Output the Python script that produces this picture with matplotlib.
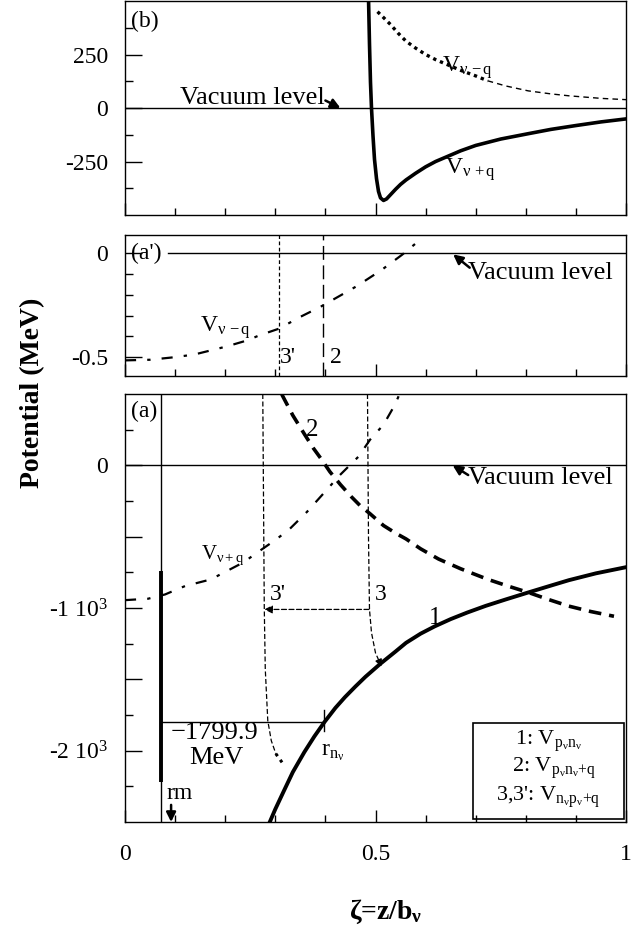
import numpy as np
import matplotlib
matplotlib.use('Agg')
import matplotlib.pyplot as plt
from matplotlib.ticker import FixedLocator, FuncFormatter
from matplotlib.patches import Rectangle

plt.rcParams['font.family'] = ['Liberation Serif', 'DejaVu Serif']
plt.rcParams['mathtext.fontset'] = 'custom'
plt.rcParams['mathtext.rm'] = 'Liberation Serif'
plt.rcParams['mathtext.it'] = 'Liberation Serif:italic'
plt.rcParams['mathtext.bf'] = 'Liberation Serif:bold'

# ---- panel (b): V_{v+q}, V_{v-q} ----
b_plus_x = [0.486, 0.488, 0.490, 0.492, 0.495, 0.498, 0.502, 0.506, 0.510, 0.516, 0.522, 0.530, 0.540,
            0.550, 0.561, 0.580, 0.600, 0.620, 0.642, 0.670, 0.700, 0.750, 0.805, 0.850, 0.900, 0.950, 1.0]
b_plus_y = [520, 300, 120, 0, -130, -240, -330, -390, -420, -432, -425, -405, -380,
            -357, -336, -305, -275, -250, -228, -200, -175, -145, -120, -100, -82, -65, -51]
b_minus_x = [0.504, 0.515, 0.530, 0.545, 0.561, 0.580, 0.600, 0.620, 0.642, 0.670, 0.700, 0.724,
             0.760, 0.805, 0.850, 0.886, 0.950, 1.0]
b_minus_y = [450, 425, 390, 350, 312, 280, 250, 226, 204, 176, 150, 127,
             103, 80, 66, 57, 45, 39]

# ---- panel (a'): V_{v-q} (small scale) ----
ap_x = [0.0, 0.05, 0.098, 0.138, 0.203, 0.244, 0.268, 0.307, 0.350, 0.390, 0.431, 0.463, 0.512, 0.553, 0.585]
ap_y = [-0.515, -0.512, -0.50, -0.487, -0.448, -0.419, -0.395, -0.363, -0.306, -0.258, -0.202, -0.158, -0.081, -0.008, 0.056]
ap_line3p = 0.307
ap_line2 = 0.396

# ---- panel (a) ----
a_plus_x = [0.0, 0.046, 0.08, 0.10, 0.12, 0.171, 0.236, 0.269, 0.303, 0.329, 0.363, 0.396, 0.429, 0.466, 0.489, 0.516, 0.539, 0.548]
a_plus_y = [-945, -935, -905, -875, -846, -800, -681, -599, -516, -445, -327, -198, -68, 61, 179, 285, 426, 500]
c1_x = [0.289, 0.300, 0.317, 0.335, 0.358, 0.378, 0.398, 0.420, 0.439, 0.460, 0.480, 0.510, 0.540,
        0.561, 0.590, 0.618, 0.650, 0.683, 0.720, 0.760, 0.805, 0.850, 0.886, 0.940, 1.0]
c1_y = [-2500, -2410, -2283, -2150, -2010, -1900, -1800, -1700, -1625, -1550, -1482, -1390, -1305,
        -1244, -1180, -1129, -1078, -1032, -985, -940, -891, -843, -805, -757, -714]
c2_x = [0.313, 0.335, 0.359, 0.376, 0.393, 0.409, 0.430, 0.452, 0.470, 0.489, 0.516, 0.540, 0.561,
        0.590, 0.626, 0.670, 0.724, 0.765, 0.805, 0.845, 0.886, 0.930, 0.976]
c2_y = [497, 350, 214, 120, 38, -45, -135, -221, -285, -339, -422, -475, -516,
        -585, -657, -725, -799, -847, -891, -940, -987, -1025, -1058]
c3p_x = [0.275, 0.278, 0.280, 0.285, 0.292, 0.301]
c3p_y = [500, -1000, -1430, -1790, -1930, -2021]
c3p_end_x = [0.301, 0.31, 0.317]
c3p_end_y = [-2021, -2065, -2100]
c3_x = [0.484, 0.486, 0.488, 0.492, 0.500, 0.507]
c3_y = [500, -500, -1010, -1173, -1315, -1370]
rm_x = 0.071
e_bind = -1799.9
r_n = 0.398

fig = plt.figure(figsize=(6.36, 9.33), dpi=100)
L, W = 125/636, 501/636
axb = fig.add_axes([L, 1-215/933, W, 214/933])
axp = fig.add_axes([L, 1-376/933, W, 141/933])
axa = fig.add_axes([L, 1-822/933, W, 428/933])

def style(ax, ymaj, ymin, fmt, xlabels=False):
    ax.set_xlim(0, 1)
    ax.xaxis.set_major_locator(FixedLocator([0, 0.5, 1]))
    ax.xaxis.set_minor_locator(FixedLocator(np.arange(0.1, 1.0, 0.1)))
    ax.yaxis.set_major_locator(FixedLocator(ymaj))
    ax.yaxis.set_minor_locator(FixedLocator(ymin))
    ax.yaxis.set_major_formatter(FuncFormatter(fmt))
    ax.tick_params(which='both', direction='in', top=False, right=False, width=1.0)
    ax.tick_params(axis='x', which='major', length=9, pad=16, labelsize=17)
    ax.tick_params(axis='x', which='minor', length=5)
    ax.tick_params(axis='y', which='major', length=12, pad=12, labelsize=17)
    ax.tick_params(axis='y', which='minor', length=6)
    if not xlabels:
        ax.tick_params(axis='x', labelbottom=False)
    else:
        ax.xaxis.set_major_formatter(FuncFormatter(lambda v, p: '%g' % v))
    for s in ax.spines.values():
        s.set_linewidth(1.0)

arr = dict(arrowstyle='-|>', color='k', lw=1.8, mutation_scale=14, shrinkA=0, shrinkB=0)

# panel (b)
axb.set_ylim(-500, 500)
style(axb, [-250, 0, 250], [-375, -125, 125, 375], lambda v, p: '%d' % v)
axb.axhline(0, color='k', lw=1.0)
axb.plot(b_plus_x, b_plus_y, color='k', lw=2.6)
axb.plot(b_minus_x[:12], b_minus_y[:12], color='k', lw=2.4, dashes=(1.0, 1.2))
axb.plot(b_minus_x[11:], b_minus_y[11:], color='k', lw=1.0, dashes=(4, 3))
axb.text(0.012, 404, '(b)', fontsize=17, va='center')
axb.text(0.398, 45, 'Vacuum level', fontsize=19, ha='right', va='center')
axb.annotate('', xy=(0.43, 0), xytext=(0.40, 35), arrowprops=arr)
axb.text(0.683, 190, r'V$_{\mathrm{ν\,-q}}$', fontsize=17, ha='center', va='center')
axb.text(0.69, -290, r'V$_{\mathrm{ν\,+q}}$', fontsize=17, ha='center', va='center')

# panel (a')
axp.set_ylim(-0.59, 0.087)
style(axp, [-0.5, 0], [-0.4, -0.3, -0.2, -0.1], lambda v, p: '%g' % v)
axp.axhline(0, xmin=0.085, color='k', lw=1.0)
axp.plot(ap_x, ap_y, color='k', lw=1.6, dashes=(5, 5, 1.5, 5))
axp.axvline(ap_line3p, color='k', lw=0.9, dashes=(3, 2))
axp.axvline(ap_line2, color='k', lw=1.0, dashes=(10, 4))
axp.text(0.012, 0, "(a')", fontsize=17, va='center')
axp.text(0.685, -0.097, 'Vacuum level', fontsize=19, ha='left', va='center')
axp.annotate('', xy=(0.655, -0.006), xytext=(0.688, -0.07), arrowprops=arr)
axp.text(0.2, -0.36, r'V$_{\mathrm{ν\,-q}}$', fontsize=17, ha='center', va='center')
axp.text(0.325, -0.5, "3'", fontsize=17, ha='center', va='center')
axp.text(0.42, -0.5, '2', fontsize=17, ha='center', va='center')

# panel (a)
def fmt_a(v, p):
    if v == 0:
        return '0'
    if v % 1000 == 0:
        return r'-%d 10$^{\mathrm{3}}$' % (-v / 1000)
    return ''

axa.set_ylim(-2500, 500)
style(axa, [-2000, -1500, -1000, -500, 0], [-2250, -1750, -1250, -750, -250, 250], fmt_a, xlabels=True)
axa.axhline(0, color='k', lw=1.0)
axa.axvline(rm_x, color='k', lw=1.0)
axa.plot([rm_x, rm_x], [-740, -2220], color='k', lw=2.8, solid_capstyle='butt')
axa.plot(a_plus_x, a_plus_y, color='k', lw=1.6, dashes=(5, 5, 1.5, 5))
axa.plot(c1_x, c1_y, color='k', lw=2.8)
axa.plot(c2_x, c2_y, color='k', lw=2.6, dashes=(3.5, 2.2))
axa.plot(c3p_x, c3p_y, color='k', lw=0.9, dashes=(4, 2))
axa.plot(c3p_end_x, c3p_end_y, color='k', lw=2.2, dashes=(1, 1.5))
axa.plot(c3_x, c3_y, color='k', lw=0.9, dashes=(4, 2))
axa.annotate('', xy=(c3_x[-1] + 0.005, c3_y[-1] - 40), xytext=(c3_x[-1], c3_y[-1]),
             arrowprops=dict(arrowstyle='-|>', color='k', lw=1, mutation_scale=10, shrinkA=0, shrinkB=0))
axa.annotate('', xy=(0.278, -1010), xytext=(0.487, -1010),
             arrowprops=dict(arrowstyle='-|>', color='k', lw=0.9, ls=(0, (4, 2)),
                             mutation_scale=12, shrinkA=0, shrinkB=0))
axa.plot([rm_x, r_n], [e_bind, e_bind], color='k', lw=1.0)
axa.plot([r_n, r_n], [-1717, -1859], color='k', lw=1.0)
axa.text(0.178, -1873, '\u22121799.9', fontsize=19, ha='center', va='center')
axa.text(0.183, -2050, 'MeV', fontsize=19, ha='center', va='center')
axa.text(0.392, -2010, r'r$_{\mathrm{n}_{\mathrm{ν}}}$', fontsize=17, ha='left', va='center')
axa.text(0.083, -2297, 'rm', fontsize=17, ha='left', va='center')
axa.annotate('', xy=(0.092, -2500), xytext=(0.092, -2380), arrowprops=arr)
axa.text(0.012, 380, '(a)', fontsize=17, va='center')
axa.text(0.685, -92, 'Vacuum level', fontsize=19, ha='left', va='center')
axa.annotate('', xy=(0.654, 0), xytext=(0.685, -68), arrowprops=arr)
axa.text(0.195, -630, r'V$_{\mathrm{ν+q}}$', fontsize=15, ha='center', va='center')
axa.text(0.373, 250, '2', fontsize=18, ha='center', va='center')
axa.text(0.305, -905, "3'", fontsize=17, ha='center', va='center')
axa.text(0.51, -905, '3', fontsize=17, ha='center', va='center')
axa.text(0.618, -1067, '1', fontsize=18, ha='center', va='center')

# legend box
axa.add_patch(Rectangle((0.695, -2478), 0.301, 671, fill=False, lw=1.2, color='k'))
axa.text(0.845, -1935, r'1: V$_{\mathrm{p}_{\mathrm{ν}}\mathrm{n}_{\mathrm{ν}}}$', fontsize=16, ha='center', va='center')
axa.text(0.855, -2125, r'2: V$_{\mathrm{p}_{\mathrm{ν}}\mathrm{n}_{\mathrm{ν}}\mathrm{+q}}$', fontsize=16, ha='center', va='center')
axa.text(0.845, -2330, r"3,3': V$_{\mathrm{n}_{\mathrm{ν}}\mathrm{p}_{\mathrm{ν}}\mathrm{+q}}$", fontsize=16, ha='center', va='center')

fig.text(33/636, 1-393/933, 'Potential (MeV)', rotation=90, fontsize=20, fontweight='bold',
         ha='center', va='center')
fig.text(386/636, 1-912/933, r'ζ=z/b$_{\mathbf{ν}}$', fontsize=20, fontweight='bold',
         ha='center', va='center')

fig.savefig('out.png', dpi=100)
